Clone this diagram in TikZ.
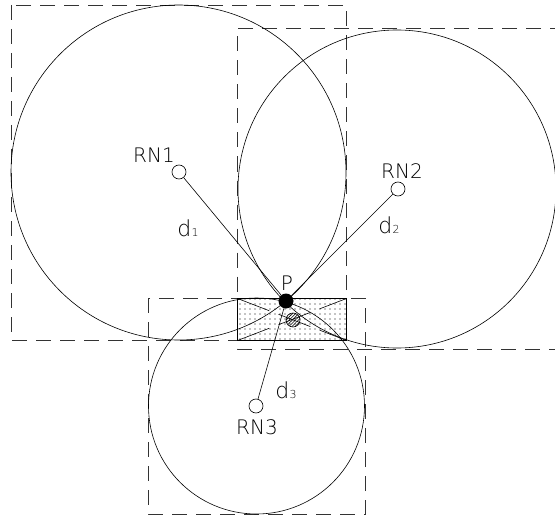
\documentclass[tikz,border=0pt]{standalone}
\usepackage{fontspec}
\setmainfont{DejaVu Sans ExtraLight}
\usetikzlibrary{patterns.meta}
\tikzset{
  thin line/.style={line width=0.6pt},
  frame/.style={line width=0.7pt, dash pattern=on 15pt off 9pt, draw=black!80},
  station/.style={circle, draw, line width=0.6pt, minimum size=14pt, inner sep=0pt},
  lbl/.style={font=\fontsize{20}{20}\selectfont, inner sep=0pt},
  dlbl/.style={font=\fontsize{22}{22}\selectfont, inner sep=0pt},
}
\newcommand{\subd}[1]{d\kern0.5pt{\fontsize{11}{11}\selectfont #1}}
\begin{document}
\begin{tikzpicture}[x=1pt,y=-1pt]
\useasboundingbox (0,0) rectangle (555,519);
\clip (0,0) rectangle (555,519);
% dashed frames
\draw[frame] (11,5) rectangle (346,340);
\draw[frame] (565,28) -- (237.5,28) -- (237.5,349) -- (565,349);
\draw[frame] (148,298) rectangle (365,514);
% small rectangle
\fill[pattern={Dots[distance=5pt, radius=0.55pt]}, pattern color=black] (237.5,298.5) rectangle (346.5,340.5);
\draw[line width=0.6pt, dash pattern=on 34pt off 10pt] (237.5,298.5) -- (346.5,340.5);
\draw[line width=0.6pt, dash pattern=on 34pt off 10pt] (237.5,340.5) -- (346.5,298.5);
\draw[line width=1.3pt] (237.5,298.5) rectangle (346.5,340.5);
% big circles
\draw[thin line] (178.5,172.5) circle (167.5);
\draw[thin line] (397,189) circle (159);
\draw[thin line] (256.5,406) circle (108);
% stations
\node[station] (rn1) at (179,172) {};
\node[station] (rn2) at (398,189) {};
\node[station] (rn3) at (256,406) {};
\node[circle, fill=black, minimum size=15pt, inner sep=0pt] (p) at (286,301) {};
\node[circle, draw, line width=0.6pt, pattern={Lines[angle=45, distance=2.2pt]}, minimum size=14pt, inner sep=0pt] (q) at (293,320) {};
% connectors
\draw[thin line] (rn1) -- (p);
\draw[thin line] (rn2) -- (p);
\draw[thin line] (rn3) -- (p);
% labels
\node[lbl] (t1) at (154,155) {RN1};
\node[lbl] (t2) at (402,171) {RN2};
\node[lbl] (t3) at (257,427) {RN3};
\node[lbl] (tp) at (287,283) {P};
\node[dlbl] (d1) at (188,228) {\subd{1}};
\node[dlbl] (d2) at (389,225) {\subd{2}};
\node[dlbl] (d3) at (286,390) {\subd{3}};
\end{tikzpicture}
\end{document}
